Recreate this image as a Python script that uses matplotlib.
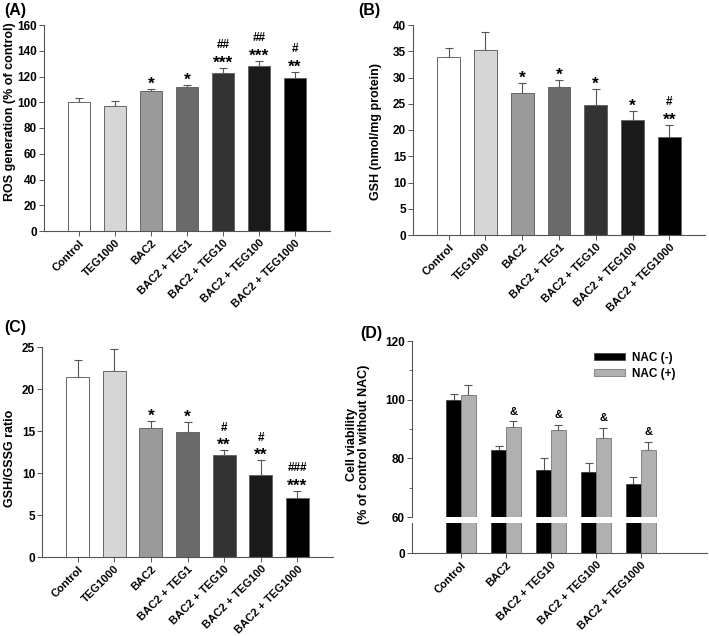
import matplotlib
matplotlib.use("Agg")
import matplotlib.pyplot as plt
import numpy as np

plt.rcParams["font.family"] = ["Liberation Sans", "DejaVu Sans"]
plt.rcParams["font.weight"] = "bold"
plt.rcParams["axes.labelweight"] = "bold"

groups7 = ["Control", "TEG1000", "BAC2", "BAC2 + TEG1", "BAC2 + TEG10",
           "BAC2 + TEG100", "BAC2 + TEG1000"]
bar_colors = ["#ffffff", "#d6d6d6", "#9a9a9a", "#6a6a6a", "#333333", "#1a1a1a", "#000000"]

ros_mean = [100, 97, 109, 111.5, 122.5, 128, 119]
ros_err = [3.2, 4.2, 1.3, 2.2, 4.0, 4.2, 4.5]
ros_star = ["", "", "*", "*", "***", "***", "**"]
ros_hash = ["", "", "", "", "##", "##", "#"]

gsh_mean = [33.9, 35.2, 27.0, 28.2, 24.7, 21.9, 18.6]
gsh_err = [1.8, 3.4, 2.0, 1.4, 3.1, 1.8, 2.4]
gsh_star = ["", "", "*", "*", "*", "*", "**"]
gsh_hash = ["", "", "", "", "", "", "#"]

ratio_mean = [21.4, 22.2, 15.3, 14.85, 12.2, 9.8, 7.0]
ratio_err = [2.0, 2.6, 0.9, 1.2, 0.5, 1.7, 0.9]
ratio_star = ["", "", "*", "*", "**", "**", "***"]
ratio_hash = ["", "", "", "", "#", "#", "###"]

groups5 = ["Control", "BAC2", "BAC2 + TEG10", "BAC2 + TEG100", "BAC2 + TEG1000"]
nac_minus = [100, 82.8, 75.9, 75.5, 71.1]
nac_minus_err = [2.1, 1.3, 4.3, 2.8, 2.6]
nac_plus = [101.7, 90.6, 89.8, 87.1, 83.0]
nac_plus_err = [3.2, 2.0, 1.7, 3.4, 2.7]
nac_mark = ["", "&", "&", "&", "&"]

W, H = 709, 636
fig = plt.figure(figsize=(W / 100, H / 100), dpi=100)


def px_axes(x0, x1, ytop, ybot):
    ax = fig.add_axes([x0 / W, 1 - ybot / H, (x1 - x0) / W, (ybot - ytop) / H])
    ax._px = (x0, x1, ytop, ybot)
    return ax


def label_at(ax, text, xc, yc, **kw):
    # place the y label centred at figure pixel (xc, yc)
    x0, x1, ytop, ybot = ax._px
    ax.set_ylabel(text, **kw)
    ax.yaxis.set_label_coords((xc - x0) / (x1 - x0), (ybot - yc) / (ybot - ytop))


def style(ax):
    for s in ("top", "right"):
        ax.spines[s].set_visible(False)
    for s in ("left", "bottom"):
        ax.spines[s].set_color("#555555")
        ax.spines[s].set_linewidth(0.8)
    ax.tick_params(direction="out", length=3.5, width=0.7, color="#555555", pad=1.5)
    ax.tick_params(axis="y", labelsize=8.5)


def set_xlabels(ax, labels):
    ax.set_xticks(np.arange(len(labels)))
    ax.set_xticklabels(labels, rotation=45, ha="right", rotation_mode="anchor",
                       fontsize=8, fontweight="bold")


def bar_panel(ax, means, errs, stars, hashes, ylim, step):
    x = np.arange(len(groups7))
    ax.bar(x, means, width=0.62, color=bar_colors, edgecolor="#666666", lw=0.7, zorder=2)
    ax.errorbar(x, means, yerr=[np.zeros(len(errs)), errs], fmt="none",
                ecolor="#555555", elinewidth=0.8, capsize=3, capthick=0.8, zorder=1)
    for xi, m, e, s, h in zip(x, means, errs, stars, hashes):
        if s:
            ax.annotate(s, (xi, m + e), xytext=(0, -2), textcoords="offset points",
                        ha="center", va="bottom", fontsize=12.5)
        if h:
            ax.annotate(h, (xi, m + e), xytext=(0, 12), textcoords="offset points",
                        ha="center", va="bottom", fontsize=8.5)
    ax.set_xlim(-0.97, len(groups7) - 0.03)
    ax.set_ylim(*ylim)
    ax.set_yticks(np.arange(ylim[0], ylim[1] + step / 2, step))
    style(ax)
    set_xlabels(ax, groups7)
    return ax


axA = px_axes(44, 330, 25, 231)
bar_panel(axA, ros_mean, ros_err, ros_star, ros_hash, (0, 160), 20)
label_at(axA, "ROS generation (% of control)", 16, 112, fontsize=9)
axB = px_axes(413, 705, 25, 235)
bar_panel(axB, gsh_mean, gsh_err, gsh_star, gsh_hash, (0, 40), 5)
label_at(axB, "GSH (nmol/mg protein)", 382, 132, fontsize=9)
axC = px_axes(42, 333, 347, 557)
bar_panel(axC, ratio_mean, ratio_err, ratio_star, ratio_hash, (0, 25), 5)
label_at(axC, "GSH/GSSG ratio", 16, 458, fontsize=9)

# panel D: broken y axis
axDu = px_axes(412, 707, 341, 517)
axDl = px_axes(412, 707, 523, 553)
x5 = np.arange(len(groups5))
bw = 0.33
for ax in (axDu, axDl):
    ax.bar(x5 - bw / 2, nac_minus, width=bw, color="#000000", edgecolor="#444444",
           lw=0.6, label="NAC (-)", zorder=2)
    ax.bar(x5 + bw / 2, nac_plus, width=bw, color="#b0b0b0", edgecolor="#777777",
           lw=0.6, label="NAC (+)", zorder=2)
    ax.set_xlim(-1.09, len(groups5) - 1 + 1.47)
    style(ax)
axDu.errorbar(x5 - bw / 2, nac_minus, yerr=[np.zeros(5), nac_minus_err], fmt="none",
              ecolor="#555555", elinewidth=0.8, capsize=3, capthick=0.8, zorder=1)
axDu.errorbar(x5 + bw / 2, nac_plus, yerr=[np.zeros(5), nac_plus_err], fmt="none",
              ecolor="#555555", elinewidth=0.8, capsize=3, capthick=0.8, zorder=1)
for xi, m, e, s in zip(x5, nac_plus, nac_plus_err, nac_mark):
    if s:
        axDu.annotate(s, (xi + bw / 2, m + e), xytext=(0, 3), textcoords="offset points",
                      ha="center", va="bottom", fontsize=8)
axDu.set_ylim(60, 120)
axDu.set_yticks([60, 80, 100, 120])
axDu.set_yticks([70, 90, 110], minor=True)
axDu.tick_params(which="minor", length=2, width=0.6, color="#555555")
axDu.spines["bottom"].set_visible(False)
axDu.set_xticks([])
axDl.set_ylim(0, 10)
axDl.set_yticks([0])
set_xlabels(axDl, groups5)
axDu.legend(loc="upper right", bbox_to_anchor=(0.93, 1.0), frameon=False,
            fontsize=8.5, handlelength=2.6, handleheight=0.5, labelspacing=0.35,
            handletextpad=0.6)
fig.text(358 / W, 1 - 444 / H, "Cell viability\n(% of control without NAC)",
         rotation=90, ha="center", va="center", fontsize=9, linespacing=1.05)

for lab, xp, yp in [("(A)", 4, 10), ("(B)", 358, 10), ("(C)", 4, 327), ("(D)", 360, 333)]:
    fig.text(xp / W, 1 - yp / H, lab, fontsize=11.5, ha="left", va="center")

fig.savefig("out.png", dpi=100)
